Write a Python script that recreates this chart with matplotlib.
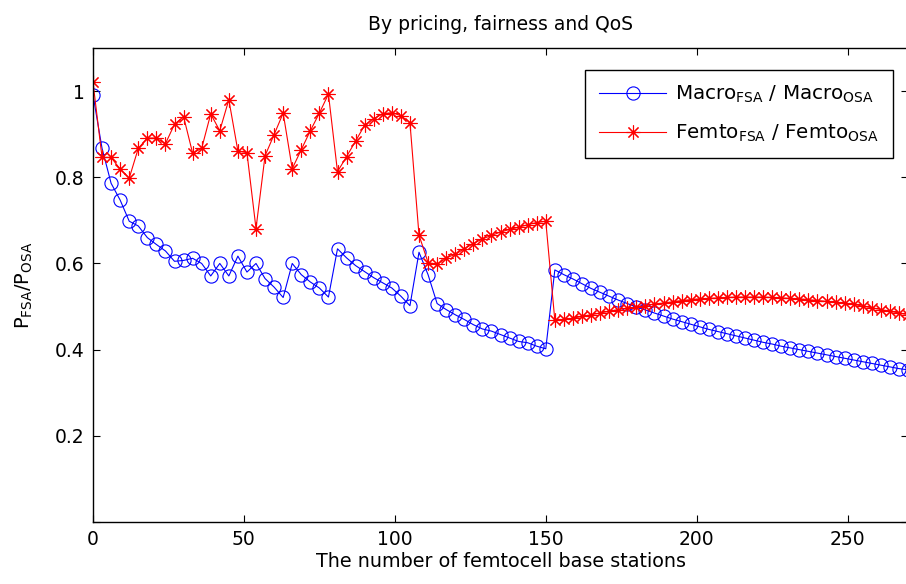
import matplotlib
matplotlib.use("Agg")
import matplotlib.pyplot as plt
import numpy as np

plt.rcParams['font.family'] = ['DejaVu Sans']
plt.rcParams['mathtext.default'] = 'regular'

x = list(range(0, 271, 3))

macro_ratio = [
    0.991, 0.867, 0.786, 0.747, 0.698, 0.687, 0.660, 0.644, 0.629, 0.605,
    0.607, 0.612, 0.600, 0.571, 0.600, 0.571, 0.617, 0.580, 0.600, 0.565,
    0.545, 0.521, 0.600, 0.574, 0.557, 0.543, 0.522, 0.634, 0.613, 0.595,
    0.581, 0.567, 0.555, 0.543, 0.524, 0.502, 0.626, 0.574, 0.507, 0.493,
    0.481, 0.470, 0.458, 0.448, 0.443, 0.435, 0.427, 0.419, 0.416, 0.408,
    0.402,
    0.585, 0.574, 0.564, 0.553, 0.542, 0.533, 0.524, 0.515, 0.507, 0.499,
    0.492, 0.485, 0.478, 0.471, 0.465, 0.459, 0.453, 0.447, 0.442, 0.437,
    0.432, 0.427, 0.422, 0.417, 0.413, 0.408, 0.404, 0.400, 0.396, 0.392,
    0.388, 0.384, 0.380, 0.376, 0.372, 0.368, 0.364, 0.360, 0.356, 0.353,
]

femto_ratio = [
    1.020, 0.846, 0.846, 0.819, 0.798, 0.867, 0.891, 0.891, 0.878, 0.923,
    0.941, 0.856, 0.867, 0.947, 0.908, 0.980, 0.861, 0.857, 0.681, 0.850,
    0.899, 0.949, 0.820, 0.864, 0.908, 0.949, 0.993, 0.813, 0.848, 0.884,
    0.921, 0.936, 0.947, 0.950, 0.943, 0.927, 0.666, 0.602, 0.598, 0.613,
    0.621, 0.634, 0.646, 0.657, 0.665, 0.673, 0.679, 0.684, 0.690, 0.695,
    0.698,
    0.468, 0.470, 0.473, 0.477, 0.481, 0.485, 0.489, 0.493, 0.496, 0.499,
    0.502, 0.506, 0.508, 0.511, 0.514, 0.516, 0.518, 0.519, 0.520, 0.521,
    0.522, 0.522, 0.522, 0.522, 0.521, 0.520, 0.519, 0.518, 0.516, 0.514,
    0.512, 0.510, 0.508, 0.505, 0.501, 0.497, 0.493, 0.489, 0.485, 0.481,
]

xticks = [0, 50, 100, 150, 200, 250]
yticks = [0, 0.2, 0.4, 0.6, 0.8, 1.0]
ytick_labels = ['', '0.2', '0.4', '0.6', '0.8', '1']

fig = plt.figure(figsize=(9.06, 5.84), dpi=100)
ax = fig.add_axes([93/906, 62/584, 815/906, 474/584])

ax.plot(x, macro_ratio, color='#0000ff', lw=0.8, marker='o', ms=9.5,
        mfc='none', mec='#0000ff', mew=0.8,
        label=r'Macro$_{FSA}$ / Macro$_{OSA}$')
ax.plot(x, femto_ratio, color='#ff0000', lw=0.8, marker=(8, 2, 0), ms=10,
        mec='#ff0000', mew=0.8,
        label=r'Femto$_{FSA}$ / Femto$_{OSA}$')

ax.set_xlim(0, 270)
ax.set_ylim(0, 1.1)
ax.set_xticks(xticks)
ax.set_yticks(yticks)
ax.set_yticklabels(ytick_labels)
ax.tick_params(direction='in', length=5, width=0.8, top=True, right=True,
               labelsize=13.5, pad=6)
for s in ax.spines.values():
    s.set_linewidth(1.0)

ax.set_title('By pricing, fairness and QoS', fontsize=13.5, pad=13)
ax.set_xlabel('The number of femtocell base stations', fontsize=13.8, labelpad=2)
ax.set_ylabel(r'P$_{FSA}$/P$_{OSA}$', fontsize=14, labelpad=14)

leg = ax.legend(loc='upper right', bbox_to_anchor=(0.9816, 0.9536),
                borderaxespad=0, fancybox=False, edgecolor='black',
                fontsize=14.3, handlelength=3.4, handletextpad=0.45,
                framealpha=1, borderpad=0.7, labelspacing=0.9)
leg.get_frame().set_linewidth(1.0)

fig.savefig('out.png', dpi=100)
